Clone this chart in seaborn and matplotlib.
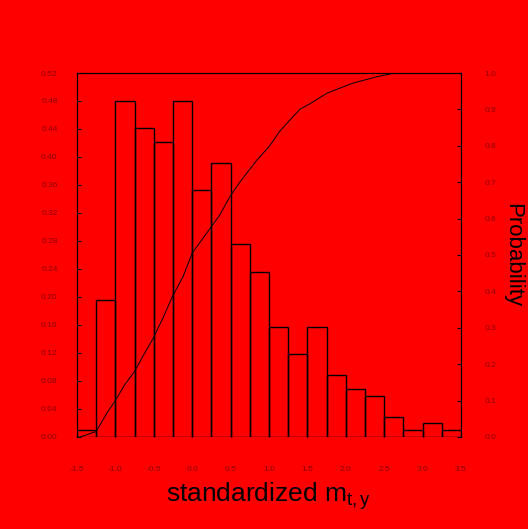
import numpy as np
import pandas as pd
import matplotlib
matplotlib.use('Agg')
import matplotlib.pyplot as plt
import seaborn as sns

plt.rcParams['font.family'] = ['Liberation Sans', 'DejaVu Sans']
plt.rcParams['mathtext.fontset'] = 'custom'
plt.rcParams['mathtext.rm'] = 'Liberation Sans'
plt.rcParams['mathtext.it'] = 'Liberation Sans'

# histogram bins (standardized values) and bar heights (density)
BIN_EDGES = [-1.5, -1.25, -1.0, -0.75, -0.5, -0.25, 0.0, 0.25, 0.5, 0.75, 1.0,
             1.25, 1.5, 1.75, 2.0, 2.25, 2.5, 2.75, 3.0, 3.25, 3.5]
DENSITY = [0.010, 0.196, 0.480, 0.441, 0.422, 0.480, 0.353, 0.392, 0.275, 0.235,
           0.157, 0.118, 0.157, 0.088, 0.069, 0.059, 0.029, 0.010, 0.020, 0.010]

# fitted cumulative curve
CDF_X = [-1.46, -1.25, -1.11, -1.0, -0.88, -0.75, -0.62, -0.51, -0.38, -0.26,
         -0.12, 0.0, 0.36, 0.49, 0.62, 0.84, 1.01, 1.14, 1.40, 1.53, 1.76,
         2.09, 2.41, 2.64, 3.23]
CDF_P = [0.0, 0.015, 0.066, 0.10, 0.143, 0.18, 0.23, 0.27, 0.327, 0.385,
         0.44, 0.505, 0.61, 0.66, 0.70, 0.76, 0.80, 0.84, 0.90, 0.915, 0.945,
         0.972, 0.99, 1.0, 1.0]

X_TICKS = [-1.5, -1.0, -0.5, 0.0, 0.5, 1.0, 1.5, 2.0, 2.5, 3.0, 3.5]
LEFT_TICKS = [0.00, 0.04, 0.08, 0.12, 0.16, 0.20, 0.24, 0.28, 0.32, 0.36, 0.40, 0.44, 0.48, 0.52]
RIGHT_TICKS = [0.0, 0.1, 0.2, 0.3, 0.4, 0.5, 0.6, 0.7, 0.8, 0.9, 1.0]

BG = '#ff0000'
TICK_TXT = '#8a0000'


def draw():
    centers = [(a + b) / 2 for a, b in zip(BIN_EDGES[:-1], BIN_EDGES[1:])]
    hist_df = pd.DataFrame({'x': centers, 'w': DENSITY})
    cdf_df = pd.DataFrame({'x': CDF_X, 'p': CDF_P})

    fig = plt.figure(figsize=(5.28, 5.29), dpi=100, facecolor=BG)
    ax = fig.add_axes([0.1458, 0.174, 0.7272, 0.688])
    ax.set_facecolor(BG)

    sns.histplot(data=hist_df, x='x', weights='w', bins=BIN_EDGES, element='bars',
                 fill=False, color='black', linewidth=1.0, ax=ax)
    ax.set_xlim(BIN_EDGES[0], BIN_EDGES[-1])
    ax.set_ylim(0, LEFT_TICKS[-1])
    ax.set_xticks(X_TICKS)
    ax.set_xticklabels([f'{t:.1f}' for t in X_TICKS])
    ax.set_yticks(LEFT_TICKS)
    ax.set_yticklabels([f'{t:.2f}' for t in LEFT_TICKS])
    ax.tick_params(direction='in', length=3, width=0.8, labelsize=6, color='black',
                   labelcolor=TICK_TXT, pad=14)
    ax.tick_params(axis='x', pad=21)
    ax.set_ylabel('')
    ax.set_xlabel('standardized m$_{t,y}$', fontsize=19, labelpad=5)
    ax.spines['bottom'].set_visible(False)

    ax2 = ax.twinx()
    ax2.set_facecolor('none')
    sns.lineplot(data=cdf_df, x='x', y='p', color='black', linewidth=0.7, ax=ax2)
    ax2.set_ylim(0, 1)
    ax2.set_yticks(RIGHT_TICKS)
    ax2.set_yticklabels([f'{t:.1f}' for t in RIGHT_TICKS])
    ax2.tick_params(direction='in', length=3, width=0.8, labelsize=6, color='black',
                    labelcolor=TICK_TXT, pad=17)
    ax2.set_ylabel('Probability', fontsize=16, rotation=270, labelpad=4, va='bottom')
    ax2.spines['bottom'].set_visible(False)

    fig.savefig('out.png', dpi=100, facecolor=BG)


if __name__ == '__main__':
    draw()
